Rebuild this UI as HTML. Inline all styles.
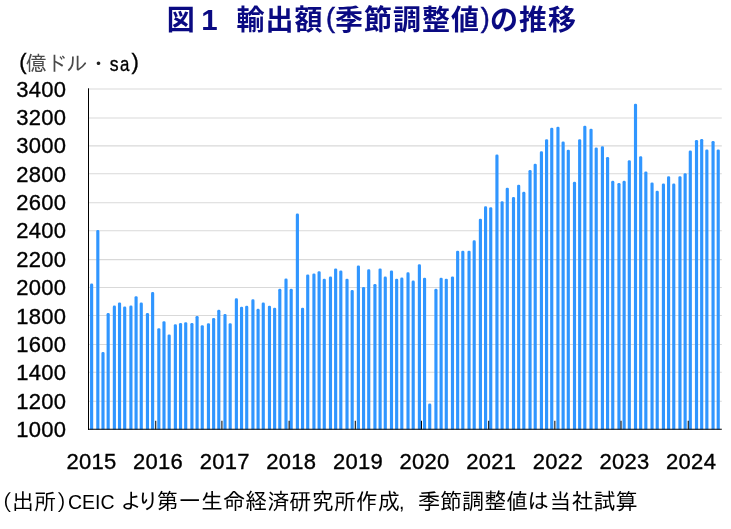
<!DOCTYPE html>
<html lang="ja"><head><meta charset="utf-8"><title>図 1 輸出額(季節調整値)の推移</title>
<style>
html,body{margin:0;padding:0;background:#fff;}
body{width:731px;height:529px;overflow:hidden;position:relative;}
svg{position:absolute;left:0;top:0;display:block}
.g{margin:0;padding:0;font-size:0;font-weight:normal;}
.t{position:absolute;white-space:nowrap;line-height:1;}
</style></head><body>
<svg width="731" height="529" viewBox="0 0 731 529">
<line x1="88.5" x2="721.8" y1="401.28" y2="401.28" stroke="#d9d9d9" stroke-width="1.03"/>
<line x1="88.5" x2="721.8" y1="372.33" y2="372.33" stroke="#d9d9d9" stroke-width="1.03"/>
<line x1="88.5" x2="721.8" y1="344.41" y2="344.41" stroke="#d9d9d9" stroke-width="1.03"/>
<line x1="88.5" x2="721.8" y1="315.46" y2="315.46" stroke="#d9d9d9" stroke-width="1.03"/>
<line x1="88.5" x2="721.8" y1="287.54" y2="287.54" stroke="#d9d9d9" stroke-width="1.03"/>
<line x1="88.5" x2="721.8" y1="259.62" y2="259.62" stroke="#d9d9d9" stroke-width="1.03"/>
<line x1="88.5" x2="721.8" y1="230.67" y2="230.67" stroke="#d9d9d9" stroke-width="1.03"/>
<line x1="88.5" x2="721.8" y1="202.75" y2="202.75" stroke="#d9d9d9" stroke-width="1.03"/>
<line x1="88.5" x2="721.8" y1="173.8" y2="173.8" stroke="#d9d9d9" stroke-width="1.03"/>
<line x1="88.5" x2="721.8" y1="145.88" y2="145.88" stroke="#d9d9d9" stroke-width="1.03"/>
<line x1="88.5" x2="721.8" y1="117.97" y2="117.97" stroke="#d9d9d9" stroke-width="1.03"/>
<line x1="88.5" x2="721.8" y1="89.01" y2="89.01" stroke="#d9d9d9" stroke-width="1.03"/>
<g fill="#3096ff">
<path d="M90.05 429.4 V284.90 Q90.05 283.60 91.34 283.60 H91.90 Q93.20 283.60 93.20 284.90 V429.4 Z"/>
<path d="M96.25 429.4 V231.42 Q96.25 230.12 97.55 230.12 H98.10 Q99.40 230.12 99.40 231.42 V429.4 Z"/>
<path d="M101.42 429.4 V353.40 Q101.42 352.10 102.72 352.10 H103.27 Q104.57 352.10 104.57 353.40 V429.4 Z"/>
<path d="M106.59 429.4 V314.26 Q106.59 312.96 107.89 312.96 H108.44 Q109.74 312.96 109.74 314.26 V429.4 Z"/>
<path d="M112.79 429.4 V306.88 Q112.79 305.58 114.09 305.58 H114.64 Q115.94 305.58 115.94 306.88 V429.4 Z"/>
<path d="M117.96 429.4 V303.76 Q117.96 302.46 119.26 302.46 H119.81 Q121.11 302.46 121.11 303.76 V429.4 Z"/>
<path d="M123.13 429.4 V307.87 Q123.13 306.57 124.43 306.57 H124.98 Q126.28 306.57 126.28 307.87 V429.4 Z"/>
<path d="M129.34 429.4 V306.88 Q129.34 305.58 130.64 305.58 H131.19 Q132.49 305.58 132.49 306.88 V429.4 Z"/>
<path d="M134.51 429.4 V297.52 Q134.51 296.22 135.81 296.22 H136.36 Q137.66 296.22 137.66 297.52 V429.4 Z"/>
<path d="M139.68 429.4 V303.76 Q139.68 302.46 140.98 302.46 H141.53 Q142.83 302.46 142.83 303.76 V429.4 Z"/>
<path d="M145.88 429.4 V314.26 Q145.88 312.96 147.18 312.96 H147.73 Q149.03 312.96 149.03 314.26 V429.4 Z"/>
<path d="M151.05 429.4 V293.41 Q151.05 292.11 152.35 292.11 H152.90 Q154.20 292.11 154.20 293.41 V429.4 Z"/>
<path d="M157.26 429.4 V329.57 Q157.26 328.27 158.56 328.27 H159.10 Q160.41 328.27 160.41 329.57 V429.4 Z"/>
<path d="M162.43 429.4 V322.48 Q162.43 321.18 163.73 321.18 H164.27 Q165.57 321.18 165.57 322.48 V429.4 Z"/>
<path d="M167.60 429.4 V335.81 Q167.60 334.51 168.90 334.51 H169.44 Q170.75 334.51 170.75 335.81 V429.4 Z"/>
<path d="M173.80 429.4 V325.46 Q173.80 324.16 175.10 324.16 H175.65 Q176.95 324.16 176.95 325.46 V429.4 Z"/>
<path d="M178.97 429.4 V324.33 Q178.97 323.03 180.27 323.03 H180.82 Q182.12 323.03 182.12 324.33 V429.4 Z"/>
<path d="M184.14 429.4 V323.47 Q184.14 322.17 185.44 322.17 H185.99 Q187.29 322.17 187.29 323.47 V429.4 Z"/>
<path d="M190.34 429.4 V324.33 Q190.34 323.03 191.64 323.03 H192.19 Q193.49 323.03 193.49 324.33 V429.4 Z"/>
<path d="M195.51 429.4 V317.23 Q195.51 315.93 196.81 315.93 H197.36 Q198.66 315.93 198.66 317.23 V429.4 Z"/>
<path d="M200.68 429.4 V326.59 Q200.68 325.29 201.98 325.29 H202.53 Q203.83 325.29 203.83 326.59 V429.4 Z"/>
<path d="M206.89 429.4 V324.47 Q206.89 323.17 208.19 323.17 H208.74 Q210.04 323.17 210.04 324.47 V429.4 Z"/>
<path d="M212.06 429.4 V319.36 Q212.06 318.06 213.36 318.06 H213.91 Q215.21 318.06 215.21 319.36 V429.4 Z"/>
<path d="M217.23 429.4 V311.13 Q217.23 309.83 218.53 309.83 H219.08 Q220.38 309.83 220.38 311.13 V429.4 Z"/>
<path d="M223.43 429.4 V315.39 Q223.43 314.09 224.73 314.09 H225.28 Q226.58 314.09 226.58 315.39 V429.4 Z"/>
<path d="M228.60 429.4 V324.47 Q228.60 323.17 229.90 323.17 H230.45 Q231.75 323.17 231.75 324.47 V429.4 Z"/>
<path d="M234.81 429.4 V299.65 Q234.81 298.35 236.11 298.35 H236.65 Q237.95 298.35 237.95 299.65 V429.4 Z"/>
<path d="M239.98 429.4 V308.01 Q239.98 306.71 241.28 306.71 H241.82 Q243.12 306.71 243.12 308.01 V429.4 Z"/>
<path d="M245.15 429.4 V307.02 Q245.15 305.72 246.45 305.72 H246.99 Q248.29 305.72 248.29 307.02 V429.4 Z"/>
<path d="M251.35 429.4 V300.64 Q251.35 299.34 252.65 299.34 H253.20 Q254.50 299.34 254.50 300.64 V429.4 Z"/>
<path d="M256.52 429.4 V310.14 Q256.52 308.84 257.82 308.84 H258.37 Q259.67 308.84 259.67 310.14 V429.4 Z"/>
<path d="M261.69 429.4 V303.76 Q261.69 302.46 262.99 302.46 H263.54 Q264.84 302.46 264.84 303.76 V429.4 Z"/>
<path d="M267.89 429.4 V307.02 Q267.89 305.72 269.19 305.72 H269.74 Q271.04 305.72 271.04 307.02 V429.4 Z"/>
<path d="M273.06 429.4 V309.01 Q273.06 307.71 274.36 307.71 H274.91 Q276.21 307.71 276.21 309.01 V429.4 Z"/>
<path d="M278.23 429.4 V290.14 Q278.23 288.84 279.53 288.84 H280.08 Q281.38 288.84 281.38 290.14 V429.4 Z"/>
<path d="M284.44 429.4 V279.79 Q284.44 278.49 285.74 278.49 H286.29 Q287.59 278.49 287.59 279.79 V429.4 Z"/>
<path d="M289.61 429.4 V290.14 Q289.61 288.84 290.91 288.84 H291.46 Q292.76 288.84 292.76 290.14 V429.4 Z"/>
<path d="M295.81 429.4 V214.69 Q295.81 213.39 297.11 213.39 H297.66 Q298.96 213.39 298.96 214.69 V429.4 Z"/>
<path d="M300.98 429.4 V309.01 Q300.98 307.71 302.28 307.71 H302.83 Q304.13 307.71 304.13 309.01 V429.4 Z"/>
<path d="M306.15 429.4 V275.68 Q306.15 274.38 307.45 274.38 H308.00 Q309.30 274.38 309.30 275.68 V429.4 Z"/>
<path d="M312.36 429.4 V274.68 Q312.36 273.38 313.66 273.38 H314.20 Q315.50 273.38 315.50 274.68 V429.4 Z"/>
<path d="M317.53 429.4 V272.56 Q317.53 271.26 318.83 271.26 H319.38 Q320.68 271.26 320.68 272.56 V429.4 Z"/>
<path d="M322.69 429.4 V280.03 Q322.69 278.73 324.00 278.73 H324.54 Q325.84 278.73 325.84 280.03 V429.4 Z"/>
<path d="M328.90 429.4 V277.90 Q328.90 276.60 330.20 276.60 H330.75 Q332.05 276.60 332.05 277.90 V429.4 Z"/>
<path d="M334.07 429.4 V269.68 Q334.07 268.38 335.37 268.38 H335.92 Q337.22 268.38 337.22 269.68 V429.4 Z"/>
<path d="M339.24 429.4 V271.80 Q339.24 270.50 340.54 270.50 H341.09 Q342.39 270.50 342.39 271.80 V429.4 Z"/>
<path d="M345.44 429.4 V280.03 Q345.44 278.73 346.74 278.73 H347.29 Q348.59 278.73 348.59 280.03 V429.4 Z"/>
<path d="M350.61 429.4 V291.38 Q350.61 290.08 351.91 290.08 H352.46 Q353.76 290.08 353.76 291.38 V429.4 Z"/>
<path d="M356.82 429.4 V266.70 Q356.82 265.40 358.12 265.40 H358.67 Q359.97 265.40 359.97 266.70 V429.4 Z"/>
<path d="M361.99 429.4 V288.26 Q361.99 286.96 363.29 286.96 H363.84 Q365.14 286.96 365.14 288.26 V429.4 Z"/>
<path d="M367.16 429.4 V270.67 Q367.16 269.37 368.46 269.37 H369.01 Q370.31 269.37 370.31 270.67 V429.4 Z"/>
<path d="M373.36 429.4 V285.28 Q373.36 283.98 374.66 283.98 H375.21 Q376.51 283.98 376.51 285.28 V429.4 Z"/>
<path d="M378.53 429.4 V269.68 Q378.53 268.38 379.83 268.38 H380.38 Q381.68 268.38 381.68 269.68 V429.4 Z"/>
<path d="M383.70 429.4 V277.90 Q383.70 276.60 385.00 276.60 H385.55 Q386.85 276.60 386.85 277.90 V429.4 Z"/>
<path d="M389.91 429.4 V271.80 Q389.91 270.50 391.21 270.50 H391.75 Q393.06 270.50 393.06 271.80 V429.4 Z"/>
<path d="M395.08 429.4 V280.03 Q395.08 278.73 396.38 278.73 H396.93 Q398.23 278.73 398.23 280.03 V429.4 Z"/>
<path d="M400.25 429.4 V278.90 Q400.25 277.60 401.55 277.60 H402.09 Q403.39 277.60 403.39 278.90 V429.4 Z"/>
<path d="M406.45 429.4 V273.65 Q406.45 272.35 407.75 272.35 H408.30 Q409.60 272.35 409.60 273.65 V429.4 Z"/>
<path d="M411.62 429.4 V281.92 Q411.62 280.62 412.92 280.62 H413.47 Q414.77 280.62 414.77 281.92 V429.4 Z"/>
<path d="M417.82 429.4 V265.46 Q417.82 264.16 419.12 264.16 H419.67 Q420.97 264.16 420.97 265.46 V429.4 Z"/>
<path d="M422.99 429.4 V278.94 Q422.99 277.64 424.29 277.64 H424.84 Q426.14 277.64 426.14 278.94 V429.4 Z"/>
<path d="M428.16 429.4 V404.89 Q428.16 403.59 429.46 403.59 H430.01 Q431.31 403.59 431.31 404.89 V429.4 Z"/>
<path d="M434.37 429.4 V290.14 Q434.37 288.84 435.67 288.84 H436.22 Q437.52 288.84 437.52 290.14 V429.4 Z"/>
<path d="M439.54 429.4 V278.94 Q439.54 277.64 440.84 277.64 H441.39 Q442.69 277.64 442.69 278.94 V429.4 Z"/>
<path d="M444.71 429.4 V279.93 Q444.71 278.63 446.01 278.63 H446.56 Q447.86 278.63 447.86 279.93 V429.4 Z"/>
<path d="M450.91 429.4 V277.80 Q450.91 276.50 452.21 276.50 H452.76 Q454.06 276.50 454.06 277.80 V429.4 Z"/>
<path d="M456.08 429.4 V251.99 Q456.08 250.69 457.38 250.69 H457.93 Q459.23 250.69 459.23 251.99 V429.4 Z"/>
<path d="M461.25 429.4 V251.99 Q461.25 250.69 462.55 250.69 H463.10 Q464.40 250.69 464.40 251.99 V429.4 Z"/>
<path d="M467.46 429.4 V251.99 Q467.46 250.69 468.76 250.69 H469.31 Q470.61 250.69 470.61 251.99 V429.4 Z"/>
<path d="M472.62 429.4 V241.64 Q472.62 240.34 473.93 240.34 H474.47 Q475.77 240.34 475.77 241.64 V429.4 Z"/>
<path d="M478.83 429.4 V219.98 Q478.83 218.68 480.13 218.68 H480.68 Q481.98 218.68 481.98 219.98 V429.4 Z"/>
<path d="M484.00 429.4 V207.64 Q484.00 206.34 485.30 206.34 H485.85 Q487.15 206.34 487.15 207.64 V429.4 Z"/>
<path d="M489.17 429.4 V208.49 Q489.17 207.19 490.47 207.19 H491.02 Q492.32 207.19 492.32 208.49 V429.4 Z"/>
<path d="M495.37 429.4 V155.87 Q495.37 154.57 496.67 154.57 H497.22 Q498.52 154.57 498.52 155.87 V429.4 Z"/>
<path d="M500.54 429.4 V202.53 Q500.54 201.23 501.84 201.23 H502.39 Q503.69 201.23 503.69 202.53 V429.4 Z"/>
<path d="M505.71 429.4 V189.06 Q505.71 187.76 507.01 187.76 H507.56 Q508.86 187.76 508.86 189.06 V429.4 Z"/>
<path d="M511.92 429.4 V198.42 Q511.92 197.12 513.22 197.12 H513.77 Q515.07 197.12 515.07 198.42 V429.4 Z"/>
<path d="M517.09 429.4 V186.08 Q517.09 184.78 518.39 184.78 H518.94 Q520.24 184.78 520.24 186.08 V429.4 Z"/>
<path d="M522.26 429.4 V193.17 Q522.26 191.87 523.56 191.87 H524.11 Q525.41 191.87 525.41 193.17 V429.4 Z"/>
<path d="M528.46 429.4 V171.26 Q528.46 169.96 529.76 169.96 H530.31 Q531.61 169.96 531.61 171.26 V429.4 Z"/>
<path d="M533.63 429.4 V165.12 Q533.63 163.82 534.93 163.82 H535.48 Q536.78 163.82 536.78 165.12 V429.4 Z"/>
<path d="M539.84 429.4 V152.64 Q539.84 151.34 541.13 151.34 H541.69 Q542.99 151.34 542.99 152.64 V429.4 Z"/>
<path d="M545.00 429.4 V140.58 Q545.00 139.28 546.30 139.28 H546.86 Q548.16 139.28 548.16 140.58 V429.4 Z"/>
<path d="M550.17 429.4 V129.09 Q550.17 127.79 551.47 127.79 H552.03 Q553.33 127.79 553.33 129.09 V429.4 Z"/>
<path d="M556.38 429.4 V128.10 Q556.38 126.80 557.68 126.80 H558.23 Q559.53 126.80 559.53 128.10 V429.4 Z"/>
<path d="M561.55 429.4 V142.85 Q561.55 141.55 562.85 141.55 H563.40 Q564.70 141.55 564.70 142.85 V429.4 Z"/>
<path d="M566.72 429.4 V151.08 Q566.72 149.78 568.02 149.78 H568.57 Q569.87 149.78 569.87 151.08 V429.4 Z"/>
<path d="M572.92 429.4 V183.13 Q572.92 181.83 574.22 181.83 H574.77 Q576.07 181.83 576.07 183.13 V429.4 Z"/>
<path d="M578.09 429.4 V140.58 Q578.09 139.28 579.39 139.28 H579.94 Q581.24 139.28 581.24 140.58 V429.4 Z"/>
<path d="M583.26 429.4 V126.96 Q583.26 125.66 584.56 125.66 H585.11 Q586.41 125.66 586.41 126.96 V429.4 Z"/>
<path d="M589.47 429.4 V130.08 Q589.47 128.78 590.77 128.78 H591.32 Q592.62 128.78 592.62 130.08 V429.4 Z"/>
<path d="M594.64 429.4 V148.81 Q594.64 147.51 595.94 147.51 H596.49 Q597.79 147.51 597.79 148.81 V429.4 Z"/>
<path d="M600.84 429.4 V147.67 Q600.84 146.37 602.14 146.37 H602.69 Q603.99 146.37 603.99 147.67 V429.4 Z"/>
<path d="M606.01 429.4 V158.31 Q606.01 157.01 607.31 157.01 H607.86 Q609.16 157.01 609.16 158.31 V429.4 Z"/>
<path d="M611.18 429.4 V182.14 Q611.18 180.84 612.48 180.84 H613.03 Q614.33 180.84 614.33 182.14 V429.4 Z"/>
<path d="M617.38 429.4 V184.27 Q617.38 182.97 618.68 182.97 H619.24 Q620.54 182.97 620.54 184.27 V429.4 Z"/>
<path d="M622.55 429.4 V182.14 Q622.55 180.84 623.85 180.84 H624.41 Q625.71 180.84 625.71 182.14 V429.4 Z"/>
<path d="M627.73 429.4 V161.43 Q627.73 160.13 629.02 160.13 H629.58 Q630.88 160.13 630.88 161.43 V429.4 Z"/>
<path d="M633.93 429.4 V105.12 Q633.93 103.82 635.23 103.82 H635.78 Q637.08 103.82 637.08 105.12 V429.4 Z"/>
<path d="M639.10 429.4 V157.46 Q639.10 156.16 640.40 156.16 H640.95 Q642.25 156.16 642.25 157.46 V429.4 Z"/>
<path d="M644.27 429.4 V172.78 Q644.27 171.48 645.57 171.48 H646.12 Q647.42 171.48 647.42 172.78 V429.4 Z"/>
<path d="M650.47 429.4 V183.85 Q650.47 182.55 651.77 182.55 H652.32 Q653.62 182.55 653.62 183.85 V429.4 Z"/>
<path d="M655.64 429.4 V192.08 Q655.64 190.78 656.94 190.78 H657.49 Q658.79 190.78 658.79 192.08 V429.4 Z"/>
<path d="M661.85 429.4 V184.85 Q661.85 183.55 663.15 183.55 H663.70 Q665.00 183.55 665.00 184.85 V429.4 Z"/>
<path d="M667.02 429.4 V177.61 Q667.02 176.31 668.32 176.31 H668.87 Q670.17 176.31 670.17 177.61 V429.4 Z"/>
<path d="M672.19 429.4 V184.85 Q672.19 183.55 673.49 183.55 H674.04 Q675.34 183.55 675.34 184.85 V429.4 Z"/>
<path d="M678.39 429.4 V177.61 Q678.39 176.31 679.69 176.31 H680.24 Q681.54 176.31 681.54 177.61 V429.4 Z"/>
<path d="M683.56 429.4 V174.49 Q683.56 173.19 684.86 173.19 H685.41 Q686.71 173.19 686.71 174.49 V429.4 Z"/>
<path d="M688.73 429.4 V151.80 Q688.73 150.50 690.03 150.50 H690.58 Q691.88 150.50 691.88 151.80 V429.4 Z"/>
<path d="M694.93 429.4 V141.30 Q694.93 140.00 696.23 140.00 H696.79 Q698.09 140.00 698.09 141.30 V429.4 Z"/>
<path d="M700.11 429.4 V140.31 Q700.11 139.01 701.40 139.01 H701.96 Q703.26 139.01 703.26 140.31 V429.4 Z"/>
<path d="M705.27 429.4 V150.81 Q705.27 149.51 706.57 149.51 H707.13 Q708.43 149.51 708.43 150.81 V429.4 Z"/>
<path d="M711.48 429.4 V142.30 Q711.48 141.00 712.78 141.00 H713.33 Q714.63 141.00 714.63 142.30 V429.4 Z"/>
<path d="M716.65 429.4 V150.81 Q716.65 149.51 717.95 149.51 H718.50 Q719.80 149.51 719.80 150.81 V429.4 Z"/>
</g>
<line x1="88.5" x2="88.5" y1="88.3" y2="430" stroke="#000" stroke-width="1"/>
<line x1="88" x2="721.8" y1="429.3" y2="429.3" stroke="#000" stroke-width="1.03"/>
<line x1="155.73" x2="155.73" y1="420.7" y2="429.5" stroke="#000" stroke-width="1.03"/>
<line x1="221.91" x2="221.91" y1="420.7" y2="429.5" stroke="#000" stroke-width="1.03"/>
<line x1="289.12" x2="289.12" y1="420.7" y2="429.5" stroke="#000" stroke-width="1.03"/>
<line x1="355.29" x2="355.29" y1="420.7" y2="429.5" stroke="#000" stroke-width="1.03"/>
<line x1="421.47" x2="421.47" y1="420.7" y2="429.5" stroke="#000" stroke-width="1.03"/>
<line x1="488.68" x2="488.68" y1="420.7" y2="429.5" stroke="#000" stroke-width="1.03"/>
<line x1="554.85" x2="554.85" y1="420.7" y2="429.5" stroke="#000" stroke-width="1.03"/>
<line x1="621.03" x2="621.03" y1="420.7" y2="429.5" stroke="#000" stroke-width="1.03"/>
<line x1="688.24" x2="688.24" y1="420.7" y2="429.5" stroke="#000" stroke-width="1.03"/>
</svg>
<h1 class="g"><span class="t" style="left:166.70px;top:6.90px;font-family:'Liberation Sans','Noto Sans CJK JP',sans-serif;font-weight:bold;font-size:28px;color:#0a0a82;">図</span> <span class="t" style="left:201.20px;top:4.55px;font-family:'Liberation Sans','Noto Sans CJK JP',sans-serif;font-weight:bold;font-size:29.5px;color:#0a0a82;">1</span> <span class="t" style="left:236.40px;top:6.90px;font-family:'Liberation Sans','Noto Sans CJK JP',sans-serif;font-weight:bold;font-size:28px;color:#0a0a82;letter-spacing:1.05px;">輸出額</span><span class="t" style="left:325.90px;top:4.85px;font-family:'Liberation Sans','Noto Sans CJK JP',sans-serif;font-weight:normal;font-size:27px;color:#0a0a82;-webkit-text-stroke:0.5px #0a0a82;">(</span><span class="t" style="left:334.90px;top:6.90px;font-family:'Liberation Sans','Noto Sans CJK JP',sans-serif;font-weight:bold;font-size:28px;color:#0a0a82;letter-spacing:1.05px;">季節調整値</span><span class="t" style="left:480.80px;top:4.85px;font-family:'Liberation Sans','Noto Sans CJK JP',sans-serif;font-weight:normal;font-size:27px;color:#0a0a82;-webkit-text-stroke:0.5px #0a0a82;">)</span><span class="t" style="left:490.00px;top:6.90px;font-family:'Liberation Sans','Noto Sans CJK JP',sans-serif;font-weight:bold;font-size:28px;color:#0a0a82;letter-spacing:1.05px;">の推移</span></h1>
<div class="g"><span class="t" style="left:19.20px;top:51.30px;font-family:'Liberation Sans',sans-serif;font-size:22px;color:#000;-webkit-text-stroke:0.35px #000;">(</span><span class="t" style="left:25.70px;top:52.65px;font-family:'Liberation Sans','IPAGothic',sans-serif;font-size:21px;color:#4a4a4a;">億</span><span class="t" style="left:46.20px;top:52.65px;font-family:'Liberation Sans','IPAGothic',sans-serif;font-size:21px;color:#4a4a4a;">ド</span><span class="t" style="left:66.60px;top:52.65px;font-family:'Liberation Sans','IPAGothic',sans-serif;font-size:21px;color:#4a4a4a;">ル</span><span class="t" style="left:90.00px;top:56.20px;font-family:'Liberation Sans','Noto Sans CJK JP',sans-serif;font-size:17px;color:#222;">・</span><span class="t" style="left:108.60px;top:54.10px;font-family:'Liberation Sans',sans-serif;font-size:20.5px;color:#000;-webkit-text-stroke:0.35px #000;transform:scaleX(0.86);">s</span><span class="t" style="left:119.10px;top:54.10px;font-family:'Liberation Sans',sans-serif;font-size:20.5px;color:#000;-webkit-text-stroke:0.35px #000;transform:scaleX(0.82);">a</span><span class="t" style="left:131.60px;top:51.35px;font-family:'Liberation Sans',sans-serif;font-size:22px;color:#000;-webkit-text-stroke:0.35px #000;">)</span></div>
<div class="g"><span class="t" style="left:16.20px;top:78.50px;font-family:'Liberation Sans',sans-serif;font-size:22px;color:#000;letter-spacing:0.3px;-webkit-text-stroke:0.35px #000;">3400</span> <span class="t" style="left:16.20px;top:106.89px;font-family:'Liberation Sans',sans-serif;font-size:22px;color:#000;letter-spacing:0.3px;-webkit-text-stroke:0.35px #000;">3200</span> <span class="t" style="left:16.20px;top:135.28px;font-family:'Liberation Sans',sans-serif;font-size:22px;color:#000;letter-spacing:0.3px;-webkit-text-stroke:0.35px #000;">3000</span> <span class="t" style="left:16.20px;top:163.67px;font-family:'Liberation Sans',sans-serif;font-size:22px;color:#000;letter-spacing:0.3px;-webkit-text-stroke:0.35px #000;">2800</span> <span class="t" style="left:16.20px;top:192.06px;font-family:'Liberation Sans',sans-serif;font-size:22px;color:#000;letter-spacing:0.3px;-webkit-text-stroke:0.35px #000;">2600</span> <span class="t" style="left:16.20px;top:220.46px;font-family:'Liberation Sans',sans-serif;font-size:22px;color:#000;letter-spacing:0.3px;-webkit-text-stroke:0.35px #000;">2400</span> <span class="t" style="left:16.20px;top:248.85px;font-family:'Liberation Sans',sans-serif;font-size:22px;color:#000;letter-spacing:0.3px;-webkit-text-stroke:0.35px #000;">2200</span> <span class="t" style="left:16.20px;top:277.24px;font-family:'Liberation Sans',sans-serif;font-size:22px;color:#000;letter-spacing:0.3px;-webkit-text-stroke:0.35px #000;">2000</span> <span class="t" style="left:16.20px;top:305.63px;font-family:'Liberation Sans',sans-serif;font-size:22px;color:#000;letter-spacing:0.3px;-webkit-text-stroke:0.35px #000;">1800</span> <span class="t" style="left:16.20px;top:334.02px;font-family:'Liberation Sans',sans-serif;font-size:22px;color:#000;letter-spacing:0.3px;-webkit-text-stroke:0.35px #000;">1600</span> <span class="t" style="left:16.20px;top:362.42px;font-family:'Liberation Sans',sans-serif;font-size:22px;color:#000;letter-spacing:0.3px;-webkit-text-stroke:0.35px #000;">1400</span> <span class="t" style="left:16.20px;top:390.81px;font-family:'Liberation Sans',sans-serif;font-size:22px;color:#000;letter-spacing:0.3px;-webkit-text-stroke:0.35px #000;">1200</span> <span class="t" style="left:16.20px;top:419.20px;font-family:'Liberation Sans',sans-serif;font-size:22px;color:#000;letter-spacing:0.3px;-webkit-text-stroke:0.35px #000;">1000</span></div>
<div class="g"><span class="t" style="left:66.38px;top:450.60px;font-family:'Liberation Sans',sans-serif;font-size:22px;color:#000;letter-spacing:0.3px;-webkit-text-stroke:0.35px #000;">2015</span> <span class="t" style="left:133.01px;top:450.60px;font-family:'Liberation Sans',sans-serif;font-size:22px;color:#000;letter-spacing:0.3px;-webkit-text-stroke:0.35px #000;">2016</span> <span class="t" style="left:199.64px;top:450.60px;font-family:'Liberation Sans',sans-serif;font-size:22px;color:#000;letter-spacing:0.3px;-webkit-text-stroke:0.35px #000;">2017</span> <span class="t" style="left:266.27px;top:450.60px;font-family:'Liberation Sans',sans-serif;font-size:22px;color:#000;letter-spacing:0.3px;-webkit-text-stroke:0.35px #000;">2018</span> <span class="t" style="left:332.90px;top:450.60px;font-family:'Liberation Sans',sans-serif;font-size:22px;color:#000;letter-spacing:0.3px;-webkit-text-stroke:0.35px #000;">2019</span> <span class="t" style="left:399.53px;top:450.60px;font-family:'Liberation Sans',sans-serif;font-size:22px;color:#000;letter-spacing:0.3px;-webkit-text-stroke:0.35px #000;">2020</span> <span class="t" style="left:466.17px;top:450.60px;font-family:'Liberation Sans',sans-serif;font-size:22px;color:#000;letter-spacing:0.3px;-webkit-text-stroke:0.35px #000;">2021</span> <span class="t" style="left:532.80px;top:450.60px;font-family:'Liberation Sans',sans-serif;font-size:22px;color:#000;letter-spacing:0.3px;-webkit-text-stroke:0.35px #000;">2022</span> <span class="t" style="left:599.43px;top:450.60px;font-family:'Liberation Sans',sans-serif;font-size:22px;color:#000;letter-spacing:0.3px;-webkit-text-stroke:0.35px #000;">2023</span> <span class="t" style="left:666.06px;top:450.60px;font-family:'Liberation Sans',sans-serif;font-size:22px;color:#000;letter-spacing:0.3px;-webkit-text-stroke:0.35px #000;">2024</span></div>
<p class="g"><span class="t" style="left:-9.40px;top:491.50px;font-family:'Liberation Sans','IPAGothic',sans-serif;font-size:22px;color:#000;">（</span><span class="t" style="left:12.00px;top:491.35px;font-family:'Liberation Sans','IPAGothic',sans-serif;font-size:22px;color:#000;">出所</span><span class="t" style="left:56.30px;top:491.50px;font-family:'Liberation Sans','IPAGothic',sans-serif;font-size:22px;color:#000;">）</span><span class="t" style="left:67.90px;top:492.50px;font-family:'Liberation Sans',sans-serif;font-size:19.5px;color:#000;">CEIC</span> <span class="t" style="left:120.20px;top:491.35px;font-family:'Liberation Sans','IPAGothic',sans-serif;font-size:22px;color:#000;">よ</span><span class="t" style="left:137.10px;top:491.35px;font-family:'Liberation Sans','IPAGothic',sans-serif;font-size:22px;color:#000;">り</span><span class="t" style="left:156.60px;top:491.35px;font-family:'Liberation Sans','IPAGothic',sans-serif;font-size:22px;color:#000;letter-spacing:0.13px;">第一生命経済研究所作成</span><span class="t" style="left:399.00px;top:493.00px;font-family:'Liberation Sans',sans-serif;font-size:19.5px;color:#000;">,</span> <span class="t" style="left:417.90px;top:491.35px;font-family:'Liberation Sans','IPAGothic',sans-serif;font-size:22px;color:#000;letter-spacing:0.1px;">季節調整値</span><span class="t" style="left:527.30px;top:491.35px;font-family:'Liberation Sans','IPAGothic',sans-serif;font-size:22px;color:#000;">は</span><span class="t" style="left:549.50px;top:491.35px;font-family:'Liberation Sans','IPAGothic',sans-serif;font-size:22px;color:#000;">当社試算</span></p>
</body></html>
